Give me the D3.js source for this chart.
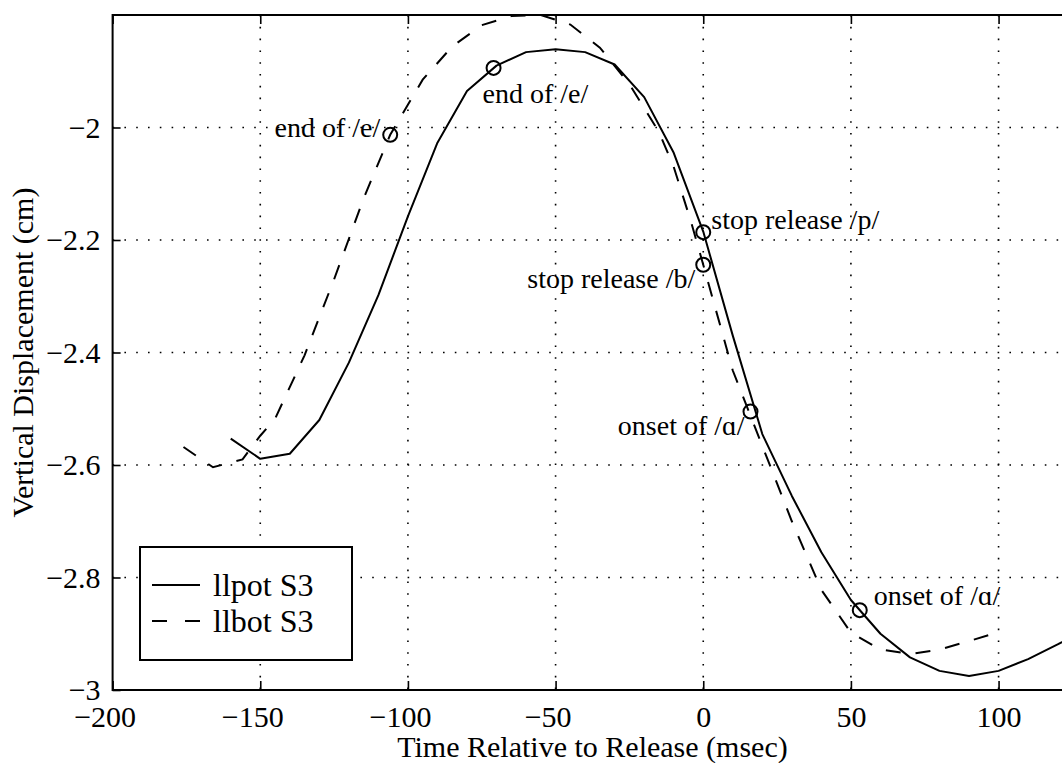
<!DOCTYPE html>
<html>
<head>
<meta charset="utf-8">
<script src="https://cdnjs.cloudflare.com/ajax/libs/d3/7.8.5/d3.min.js"></script>
<style>
  html, body { margin: 0; padding: 0; background: #fff; }
  svg { display: block; }
  text { font-family: "Liberation Serif", "Times New Roman", "DejaVu Serif", serif; fill: #000; }
</style>
</head>
<body>
<svg id="chart"></svg>
<script>
//=============================================================
// data

var potTime = [-160, -150, -140, -130, -120, -110, -100, -90, -80, -70, -60, -50, -40, -30, -20, -10,
               0, 10, 20, 30, 40, 50, 60, 70, 80, 90, 100, 110, 120, 130];
var potDisp = [-2.553, -2.589, -2.580, -2.520, -2.418, -2.298, -2.158, -2.027, -1.935, -1.890, -1.866, -1.861, -1.866, -1.888, -1.946, -2.045,
               -2.185, -2.370, -2.545, -2.655, -2.755, -2.840, -2.900, -2.942, -2.966, -2.975, -2.966, -2.945, -2.919, -2.890];

var botTime = [-176, -166, -156, -150, -145, -135, -125, -115, -106, -95, -85, -75, -65, -55, -45, -35, -25, -15, -10, -4,
               0, 10, 20, 30, 40, 50, 60, 70, 80, 90, 97];
var botDisp = [-2.568, -2.604, -2.590, -2.548, -2.518, -2.405, -2.270, -2.126, -2.013, -1.915, -1.856, -1.818, -1.802, -1.800, -1.817, -1.858, -1.923, -2.008, -2.070, -2.170,
               -2.244, -2.432, -2.566, -2.700, -2.822, -2.898, -2.928, -2.936, -2.928, -2.913, -2.902];

var markTime = [-106, -71, 0, 0, 16, 53];
var markDisp = [-2.013, -1.894, -2.186, -2.244, -2.505, -2.858];
var markLabel = ["end of /e/", "end of /e/", "stop release /p/", "stop release /b/", "onset of /\u0251/", "onset of /\u0251/"];

var seriesNames = ["llpot S3", "llbot S3"];
var xTicks = [-200, -150, -100, -50, 0, 50, 100];
var yTicks = [-3, -2.8, -2.6, -2.4, -2.2, -2];

var xLabel = "Time Relative to Release (msec)";
var yLabel = "Vertical Displacement (cm)";

//=============================================================

var W = 1062;
var H = 763;

var L = 112.6;
var R = 1072.4;
var T = 15;
var B = 690;

var DASH = "15,15";

var vis = d3.select("#chart").attr("width", W).attr("height", H);

vis.append("rect").attr("width", W).attr("height", H).attr("fill", "#fff");

var xScale = d3.scaleLinear().range([L, R]).domain([-200, 125]);
var yScale = d3.scaleLinear().range([B, T]).domain([-3, -1.8]);

function fmt(d) {
  return (d < 0 ? "\u2212" : "") + Math.abs(d);
}

// dotted grid
vis.append("g").selectAll("line")
    .data(xTicks.slice(1))
    .enter().append("line")
    .attr("x1", function(d) { return xScale(d); })
    .attr("x2", function(d) { return xScale(d); })
    .attr("y1", T).attr("y2", B)
    .attr("stroke", "#000").attr("stroke-width", 1.6)
    .attr("stroke-dasharray", "1.6,10.2");

vis.append("g").selectAll("line")
    .data(yTicks.slice(1))
    .enter().append("line")
    .attr("y1", function(d) { return yScale(d); })
    .attr("y2", function(d) { return yScale(d); })
    .attr("x1", L).attr("x2", R)
    .attr("stroke", "#000").attr("stroke-width", 1.6)
    .attr("stroke-dasharray", "1.6,10.2");

// curves
vis.append("clipPath").attr("id", "plotclip")
  .append("rect").attr("x", L).attr("y", T).attr("width", R - L).attr("height", B - T);

var lineGen = d3.line()
    .x(function(p) { return xScale(p[0]); })
    .y(function(p) { return yScale(p[1]); });

var plot = vis.append("g").attr("clip-path", "url(#plotclip)");

plot.append("path")
    .attr("d", lineGen(d3.zip(potTime, potDisp)))
    .attr("fill", "none").attr("stroke", "#000").attr("stroke-width", 2)
    .attr("stroke-linejoin", "round");

plot.append("path")
    .attr("d", lineGen(d3.zip(botTime, botDisp)))
    .attr("fill", "none").attr("stroke", "#000").attr("stroke-width", 2)
    .attr("stroke-dasharray", DASH);

// event markers and their labels
var labelPos = [
  {dx: -10, dy: 2, anchor: "end"},
  {dx: -11, dy: 35, anchor: "start"},
  {dx: 8, dy: -3, anchor: "start"},
  {dx: -8, dy: 23, anchor: "end"},
  {dx: -6, dy: 23, anchor: "end"},
  {dx: 14, dy: -5, anchor: "start"}
];

var marks = vis.append("g").selectAll("g")
    .data(markTime.map(function(t, i) { return [t, markDisp[i], markLabel[i], labelPos[i]]; }))
    .enter().append("g");

marks.append("circle")
    .attr("cx", function(d) { return xScale(d[0]); })
    .attr("cy", function(d) { return yScale(d[1]); })
    .attr("r", 7)
    .attr("fill", "none").attr("stroke", "#000").attr("stroke-width", 2);

marks.append("text")
    .attr("x", function(d) { return xScale(d[0]) + d[3].dx; })
    .attr("y", function(d) { return yScale(d[1]) + d[3].dy; })
    .attr("text-anchor", function(d) { return d[3].anchor; })
    .attr("font-size", 28)
    .text(function(d) { return d[2]; });

// axes, ticks pointing inward
var xAxis = d3.axisBottom(xScale).tickValues(xTicks).tickSize(-9).tickFormat(fmt);
var xAxisTop = d3.axisTop(xScale).tickValues(xTicks).tickSize(-9).tickFormat("");
var yAxis = d3.axisLeft(yScale).tickValues(yTicks).tickSize(-8).tickPadding(12).tickFormat(fmt);

var gx = vis.append("g")
    .attr("transform", "translate(0," + B + ")")
    .call(xAxis);
gx.selectAll("text")
    .attr("y", 37).attr("dy", 0)
    .attr("dx", function(d) { return d < 0 ? -8 : 0; });

var gxt = vis.append("g")
    .attr("transform", "translate(0," + T + ")")
    .call(xAxisTop);

var gy = vis.append("g")
    .attr("transform", "translate(" + L + ",0)")
    .call(yAxis);

[gx, gxt, gy].forEach(function(g) {
  g.select(".domain").remove();
  g.selectAll(".tick line").attr("stroke", "#000").attr("stroke-width", 1.6);
  g.selectAll("text")
      .attr("font-family", "Liberation Serif, Times New Roman, serif")
      .attr("font-size", 30).attr("fill", "#000");
});

// frame
vis.append("rect")
    .attr("x", L).attr("y", T).attr("width", R - L).attr("height", B - T)
    .attr("fill", "none").attr("stroke", "#000").attr("stroke-width", 2);

// axis titles
vis.append("text")
    .attr("x", (L + R) / 2).attr("y", 757)
    .attr("text-anchor", "middle").attr("font-size", 30)
    .text(xLabel);

vis.append("text")
    .attr("transform", "translate(33," + ((T + B) / 2) + ") rotate(-90)")
    .attr("text-anchor", "middle").attr("font-size", 30)
    .text(yLabel);

// legend
var leg = vis.append("g");
leg.append("rect")
    .attr("x", 140).attr("y", 547).attr("width", 212).attr("height", 113)
    .attr("fill", "#fff").attr("stroke", "#000").attr("stroke-width", 2);

leg.selectAll("g.entry")
    .data(seriesNames)
    .enter().append("g").attr("class", "entry")
    .each(function(name, i) {
      var g = d3.select(this);
      var yy = 585 + i * 36;
      g.append("line")
          .attr("x1", 152).attr("x2", 200).attr("y1", yy).attr("y2", yy)
          .attr("stroke", "#000").attr("stroke-width", 2)
          .attr("stroke-dasharray", i == 1 ? "15,18" : null);
      g.append("text")
          .attr("x", 213).attr("y", yy + 11)
          .attr("font-size", 32)
          .text(name);
    });

//=============================================================
</script>
</body>
</html>
